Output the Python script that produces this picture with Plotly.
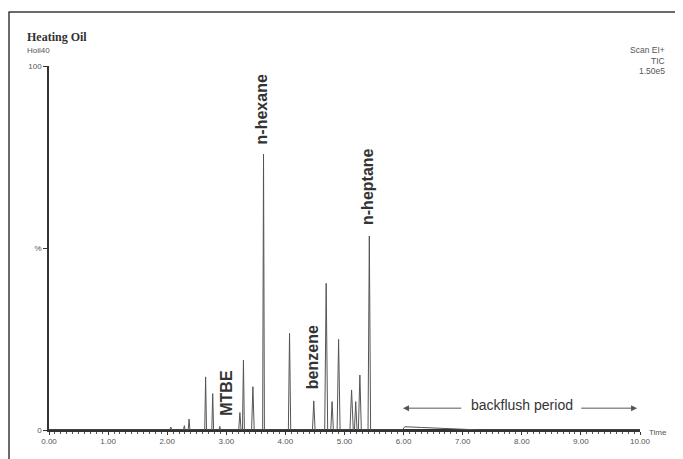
import plotly.graph_objects as go

# Peak retention times (min) and heights (% of full scale)
peak_times = [2.06, 2.29, 2.37, 2.65, 2.77, 2.89, 3.23, 3.29, 3.45, 3.63, 4.07,
              4.48, 4.69, 4.79, 4.90, 5.12, 5.19, 5.26, 5.42]
peak_heights = [0.8, 1.2, 3.0, 14.6, 10.0, 1.0, 4.8, 19.2, 11.9, 75.8, 26.6,
                8.0, 40.3, 7.8, 24.9, 11.0, 7.8, 15.1, 53.3]
peak_halfwidths = [0.02, 0.015, 0.015, 0.015, 0.015, 0.012, 0.02, 0.016, 0.022, 0.015, 0.02,
                   0.022, 0.025, 0.022, 0.025, 0.028, 0.022, 0.025, 0.022]

# Backflush hump (time, %)
hump_times = [5.98, 6.02, 6.3, 6.7, 7.0, 7.3]
hump_values = [0.0, 0.9, 0.7, 0.4, 0.2, 0.0]

label_names = ["n-hexane", "n-heptane", "benzene", "MTBE"]
label_x = [3.60, 5.40, 4.45, 3.01]
label_y = [88.0, 66.8, 20.0, 10.2]

x_ticks = [0, 1, 2, 3, 4, 5, 6, 7, 8, 9, 10]
y_ticks = [0, 50, 100]
y_ticktext = ["0", "%", "100"]

# Build trace from peak table
xs, ys = [0.0], [0.0]
for t, h, w in zip(peak_times, peak_heights, peak_halfwidths):
    xs += [t - w, t, t + w]
    ys += [0.0, h, 0.0]
xs += hump_times
ys += hump_values
xs.append(10.0)
ys.append(0.0)

# The page body has an 8px margin; work in page pixels and convert.
OFF = 8
W, H = 683 - OFF, 459 - OFF
L, T = 49 - OFF, 66 - OFF
R = W - (640 - OFF)
B = H - (430 - OFF)
pw, ph = W - L - R, H - T - B


def px(x):
    return (x - OFF - L) / pw


def py(y):
    return (H - (y - OFF) - B) / ph


fig = go.Figure()
fig.add_trace(go.Scatter(x=[0, 10], y=[0, 0], mode="lines",
                         line=dict(color="#333333", width=2), hoverinfo="skip"))
fig.add_trace(go.Scatter(x=xs, y=ys, mode="lines",
                         line=dict(color="#555555", width=1), hoverinfo="skip"))

for name, lx, ly in zip(label_names, label_x, label_y):
    fig.add_annotation(x=lx, y=ly, xref="x", yref="y", text="<b>" + name + "</b>",
                       textangle=-90, showarrow=False,
                       font=dict(family="Liberation Sans, Arial", size=16, color="#333333"))

fig.add_annotation(x=8.0, y=7.0, xref="x", yref="y", text="backflush period", showarrow=False,
                   font=dict(family="Liberation Sans, Arial", size=14, color="#333333"))
fig.add_annotation(x=5.99, y=6.0, ax=7.0, ay=6.0, xref="x", yref="y", axref="x", ayref="y",
                   text="", showarrow=True, arrowhead=2, arrowsize=1.2, arrowwidth=1,
                   arrowcolor="#555555")
fig.add_annotation(x=9.95, y=6.0, ax=8.98, ay=6.0, xref="x", yref="y", axref="x", ayref="y",
                   text="", showarrow=True, arrowhead=2, arrowsize=1.2, arrowwidth=1,
                   arrowcolor="#555555")

# Header texts (page pixel positions)
fig.add_annotation(x=px(25), y=py(37), xref="paper", yref="paper", text="<b>Heating Oil</b>",
                   showarrow=False, xanchor="left", yanchor="middle",
                   font=dict(family="Liberation Serif, Times New Roman", size=12, color="#333333"))
fig.add_annotation(x=px(25), y=py(51), xref="paper", yref="paper", text="Hoil40",
                   showarrow=False, xanchor="left", yanchor="middle",
                   font=dict(family="Liberation Sans, Arial", size=8, color="#555555"))
for i, txt in enumerate(["Scan EI+", "TIC", "1.50e5"]):
    fig.add_annotation(x=px(667), y=py(50 + i * 10.5), xref="paper", yref="paper", text=txt,
                       showarrow=False, xanchor="right", yanchor="middle",
                       font=dict(family="Liberation Sans, Arial", size=8.5, color="#555555"))
fig.add_annotation(x=px(647), y=py(432), xref="paper", yref="paper", text="Time",
                   showarrow=False, xanchor="left", yanchor="middle",
                   font=dict(family="Liberation Sans, Arial", size=8, color="#555555"))

# Outer frame: top and left edges
fig.add_shape(type="line", xref="paper", yref="paper",
              x0=px(8.5), x1=px(683), y0=py(12), y1=py(12),
              line=dict(color="#3a3a3a", width=1.5))
fig.add_shape(type="line", xref="paper", yref="paper",
              x0=px(9), x1=px(9), y0=py(459), y1=py(12),
              line=dict(color="#3a3a3a", width=1.5))

fig.update_layout(
    width=W, height=H,
    margin=dict(l=L, r=R, t=T, b=B),
    paper_bgcolor="white", plot_bgcolor="white",
    showlegend=False,
)
fig.update_xaxes(range=[0, 10], tickvals=x_ticks, tickformat=".2f", showgrid=False, zeroline=False,
                 showline=True, linecolor="#333333", linewidth=1.5,
                 ticks="outside", ticklen=3, tickcolor="#333333",
                 minor=dict(ticks="outside", dtick=0.1, ticklen=2, tickcolor="#555555"),
                 tickfont=dict(family="Liberation Sans, Arial", size=8, color="#555555"))
fig.update_yaxes(range=[0, 100], tickvals=y_ticks, ticktext=y_ticktext, showgrid=False,
                 zeroline=False, showline=True, linecolor="#333333", linewidth=1.5,
                 ticks="outside", ticklen=4, tickcolor="#333333",
                 tickfont=dict(family="Liberation Sans, Arial", size=8, color="#555555"))

fig.write_html("out.html")
